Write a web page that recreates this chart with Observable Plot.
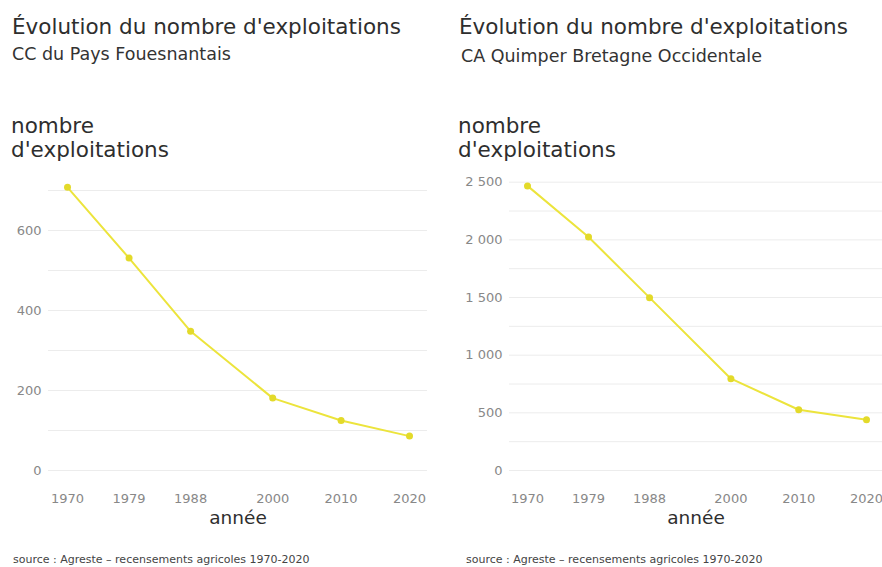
<!DOCTYPE html>
<html><head><meta charset="utf-8">
<script src="https://cdn.jsdelivr.net/npm/d3@7"></script>
<script src="https://cdn.jsdelivr.net/npm/@observablehq/plot@0.6"></script>
<style>
body{margin:0;background:#fff;font-family:"DejaVu Sans",sans-serif;color:#333;}
#wrap{position:relative;width:882px;height:567px;overflow:hidden;}
.t{position:absolute;white-space:nowrap;line-height:1.2;}
.title{font-size:21.5px;color:#2e2e2e;}
.sub{font-size:17.5px;color:#333;}
.ylab{font-size:21.5px;line-height:24px;color:#2e2e2e;}
.src{font-size:11px;color:#444;}
.chart{position:absolute;top:170px;}
</style></head>
<body><div id="wrap">
<div class="t title" style="left:12px;top:14px">Évolution du nombre d'exploitations</div>
<div class="t sub" style="left:12px;top:44px">CC du Pays Fouesnantais</div>
<div class="t ylab" style="left:11px;top:114px">nombre<br>d'exploitations</div>
<div class="t title" style="left:459px;top:14px">Évolution du nombre d'exploitations</div>
<div class="t sub" style="left:461px;top:46px">CA Quimper Bretagne Occidentale</div>
<div class="t ylab" style="left:458px;top:114px">nombre<br>d'exploitations</div>
<div class="chart" id="c1" style="left:0px"></div>
<div class="chart" id="c2" style="left:441px"></div>
<div class="t src" style="left:13px;top:553px">source : Agreste – recensements agricoles 1970-2020</div>
<div class="t src" style="left:466px;top:553px">source : Agreste – recensements agricoles 1970-2020</div>
</div>
<script>
const years = [1970, 1979, 1988, 2000, 2010, 2020];
const fouesnant = [708, 531, 348, 181, 125, 86];
const quimper = [2468, 2025, 1499, 796, 527, 440];
const ticks1 = [0, 200, 400, 600];
const grid1 = [0, 100, 200, 300, 400, 500, 600, 700];
const ticks2 = [0, 500, 1000, 1500, 2000, 2500];
const grid2 = [0, 250, 500, 750, 1000, 1250, 1500, 1750, 2000, 2250, 2500];

const lineColor = "#ece43c";
const dotColor = "#e3da2a";
const fmt = d => d3.format(",")(d).replace(/,/g, " ");

function chart(vals, yMax, ticks, grid, opts) {
  const data = years.map((y, i) => ({annee: y, n: vals[i]}));
  return Plot.plot({
    width: 441,
    height: 372,
    marginTop: opts.mt,
    marginBottom: 72,
    marginLeft: opts.ml,
    marginRight: opts.mr,
    style: {fontFamily: "DejaVu Sans, sans-serif", fontSize: "13px", color: "#888", background: "transparent"},
    x: {domain: [1970, 2020], insetLeft: opts.il, insetRight: opts.ir, label: null},
    y: {domain: [0, yMax], label: null},
    marks: [
      Plot.ruleY(grid, {stroke: "#ececec", strokeWidth: 1}),
      Plot.axisX({ticks: years, tickFormat: d => String(d), tickSize: 0, tickPadding: 23, label: null, fill: "#888"}),
      Plot.axisY({ticks: ticks, tickFormat: fmt, tickSize: 0, tickPadding: 7, label: null, fill: "#888"}),
      Plot.line(data, {x: "annee", y: "n", stroke: lineColor, strokeWidth: 2}),
      Plot.dot(data, {x: "annee", y: "n", fill: dotColor, r: 3.5}),
      Plot.text(["année"], {frameAnchor: "bottom", dy: 53, fill: "#2e2e2e", fontSize: 18.5, textAnchor: "middle"})
    ]
  });
}

document.getElementById("c1").append(chart(fouesnant, 700, ticks1, grid1, {mt: 20, ml: 48, mr: 14, il: 19, ir: 18}));
document.getElementById("c2").append(chart(quimper, 2500, ticks2, grid2, {mt: 11.7, ml: 68, mr: 0, il: 18, ir: 16}));
</script>
</body></html>
